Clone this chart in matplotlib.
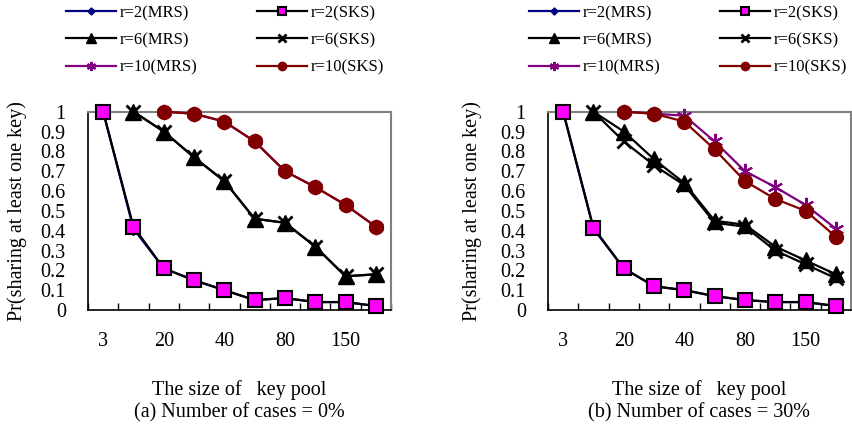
import matplotlib
matplotlib.use("Agg")
import matplotlib.pyplot as plt
import numpy as np

plt.rcParams['font.family'] = ['Liberation Serif', 'DejaVu Serif']

# ---------------- data ----------------
categories = ["3", "10", "20", "30", "40", "60", "80", "100", "150", "200"]
shown_labels = ["3", "", "20", "", "40", "", "80", "", "150", ""]

# panel (a): number of cases = 0%
a_r2_mrs = [1.0, 0.41, 0.21, 0.15, 0.10, 0.05, 0.06, 0.04, 0.04, 0.02]
a_r2_sks = [1.0, 0.42, 0.21, 0.15, 0.10, 0.05, 0.06, 0.04, 0.04, 0.02]
a_r6_mrs = [None, 1.0, 0.90, 0.77, 0.65, 0.46, 0.44, 0.32, 0.17, 0.18]
a_r6_sks = [None, 1.0, 0.90, 0.77, 0.65, 0.46, 0.44, 0.32, 0.17, 0.18]
a_r10_mrs = [None, None, 1.0, 0.99, 0.95, 0.85, 0.70, 0.62, 0.53, 0.42]
a_r10_sks = [None, None, 1.0, 0.99, 0.95, 0.85, 0.70, 0.62, 0.53, 0.42]

# panel (b): number of cases = 30%
b_r2_mrs = [1.0, 0.41, 0.21, 0.12, 0.10, 0.07, 0.05, 0.04, 0.04, 0.02]
b_r2_sks = [1.0, 0.415, 0.21, 0.12, 0.10, 0.07, 0.05, 0.04, 0.04, 0.02]
b_r6_mrs = [None, 1.0, 0.90, 0.76, 0.64, 0.45, 0.43, 0.32, 0.25, 0.18]
b_r6_sks = [None, 1.0, 0.85, 0.73, 0.63, 0.44, 0.42, 0.30, 0.23, 0.16]
b_r10_mrs = [None, None, 1.0, 0.99, 0.98, 0.85, 0.70, 0.62, 0.53, 0.41]
b_r10_sks = [None, None, 1.0, 0.99, 0.95, 0.81, 0.65, 0.56, 0.50, 0.37]

series_names = ["r=2(MRS)", "r=2(SKS)", "r=6(MRS)", "r=6(SKS)", "r=10(MRS)", "r=10(SKS)"]
panel_a = [a_r2_mrs, a_r2_sks, a_r6_mrs, a_r6_sks, a_r10_mrs, a_r10_sks]
panel_b = [b_r2_mrs, b_r2_sks, b_r6_mrs, b_r6_sks, b_r10_mrs, b_r10_sks]
subtitles = ["(a) Number of cases = 0%", "(b) Number of cases = 30%"]
xlabel = "The size of   key pool"
ylabel = "Pr(sharing at least one key)"
yticks = [0, 0.1, 0.2, 0.3, 0.4, 0.5, 0.6, 0.7, 0.8, 0.9, 1]
ytick_labels = ["0", "0.1", "0.2", "0.3", "0.4", "0.5", "0.6", "0.7", "0.8", "0.9", "1"]

styles = [
    dict(color="#000080", marker="D", mfc="#000080", mec="#000080", ms=6),
    dict(color="black", marker="s", mfc="#FF00FF", mec="black", ms=9.5, mew=1.5),
    dict(color="black", marker="^", mfc="black", mec="black", ms=11),
    dict(color="black", marker="x", mfc="black", mec="black", ms=10, mew=2),
    dict(color="#800080", marker=(6, 2, 0), mfc="#800080", mec="#800080", ms=11, mew=1.5),
    dict(color="#800000", marker="o", mfc="#800000", mec="#800000", ms=10),
]
order = [0, 1, 2, 3, 4, 5]

W, H = 852, 434
fig = plt.figure(figsize=(W / 100, H / 100), dpi=100)

def px_axes(left, top, right, bottom):
    return fig.add_axes([left / W, 1 - bottom / H, (right - left) / W, (bottom - top) / H])

axes_boxes = [(88, 111.7, 391, 310), (548, 111.7, 851, 310)]
legend_anchor = [(66, 5), (529, 5)]
ylabel_x = [17, 472]
xlabel_y = 390
sub_y = 413

x = np.arange(len(categories))
for p, (data, box) in enumerate(zip([panel_a, panel_b], axes_boxes)):
    ax = px_axes(*box)
    handles = []
    for i in order:
        vals = np.array([np.nan if v is None else v for v in data[i]], dtype=float)
        st = styles[i]
        (h,) = ax.plot(x, vals, lw=1.6, color=st["color"], marker=st["marker"],
                       markerfacecolor=st["mfc"], markeredgecolor=st["mec"],
                       markersize=st["ms"], markeredgewidth=st.get("mew", 1.0),
                       label=series_names[i], clip_on=False, zorder=3 + i)
        handles.append(h)
    ax.set_xlim(-0.5, len(categories) - 0.5)
    ax.set_ylim(0, 1)
    ax.set_xticks(np.arange(len(categories) + 1) - 0.5, minor=False)
    ax.set_xticklabels([])
    ax.set_xticks(x, minor=True)
    ax.set_xticklabels(shown_labels, minor=True)
    ax.tick_params(axis="x", which="major", direction="in", length=5, width=1, color="black")
    ax.tick_params(axis="x", which="minor", length=0, pad=16, labelsize=14.5)
    ax.set_yticks(yticks)
    ax.set_yticklabels(ytick_labels)
    ax.tick_params(axis="y", length=0, pad=16, labelsize=14.5)
    for s in ["top", "right"]:
        ax.spines[s].set_color("#808080")
        ax.spines[s].set_linewidth(1.5)
    for s in ["left", "bottom"]:
        ax.spines[s].set_color("black")
        ax.spines[s].set_linewidth(1.2)
    cx = (box[0] + box[2]) / 2
    fig.text(cx / W, 1 - xlabel_y / H, xlabel, ha="center", va="center", fontsize=14.5)
    fig.text(cx / W, 1 - sub_y / H, subtitles[p], ha="center", va="center", fontsize=14.5)
    fig.text(ylabel_x[p] / W, 1 - (box[1] + box[3]) / 2 / H, ylabel, rotation=90,
             ha="center", va="center", fontsize=14.5)
    leg_order = [0, 2, 4, 1, 3, 5]
    fig.legend([handles[k] for k in leg_order], [series_names[k] for k in leg_order],
               ncol=2, loc="upper left",
               bbox_to_anchor=(legend_anchor[p][0] / W, 1 - legend_anchor[p][1] / H),
               frameon=False, fontsize=12, handlelength=3.0, handletextpad=0.2,
               columnspacing=3.6, labelspacing=0.68, borderpad=0, borderaxespad=0,
               markerscale=0.6)

fig.savefig("out.png", dpi=100)
